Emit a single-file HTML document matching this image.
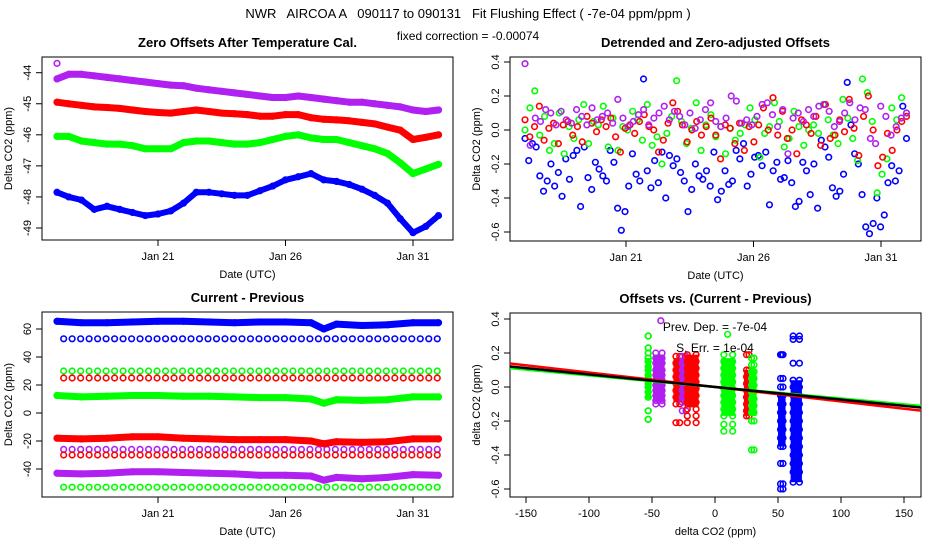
<!DOCTYPE html>
<html><head><meta charset="utf-8"><style>
body{margin:0;background:#fff;width:936px;height:540px;overflow:hidden}
svg{display:block;font-family:"Liberation Sans",sans-serif}
</style></head><body>
<svg id="s" width="936" height="540" viewBox="0 0 936 540" xmlns="http://www.w3.org/2000/svg">
<text x="468" y="18" text-anchor="middle" font-size="13" xml:space="preserve">NWR   AIRCOA A   090117 to 090131   Fit Flushing Effect ( -7e-04 ppm/ppm )</text>
<text x="468" y="40" text-anchor="middle" font-size="12">fixed correction = -0.00074</text>
</svg>
<script>
// ---- data ----
const dayStart = 17.04, dayEnd = 32.0;
const dateTickDays = [21, 26, 31];
const dateTickLabels = ["Jan 21", "Jan 26", "Jan 31"];
// Panel 1: zero offsets (keyframe days + values)
const p1Days = [17.04,17.5,18,18.5,19,19.5,20,20.5,21,21.5,22,22.5,23,23.5,24,24.5,25,25.5,26,26.5,27,27.5,28,28.5,29,29.5,30,30.5,31,31.5,32];
const p1Purple = [-44.2,-44.05,-44.05,-44.1,-44.15,-44.2,-44.25,-44.3,-44.35,-44.4,-44.42,-44.5,-44.55,-44.6,-44.65,-44.7,-44.75,-44.8,-44.8,-44.75,-44.8,-44.85,-44.9,-44.95,-44.95,-45.0,-45.05,-45.1,-45.2,-45.25,-45.2];
const p1Red = [-44.95,-45.0,-45.05,-45.1,-45.12,-45.15,-45.2,-45.25,-45.28,-45.3,-45.25,-45.2,-45.25,-45.3,-45.32,-45.35,-45.4,-45.4,-45.35,-45.35,-45.45,-45.5,-45.52,-45.55,-45.6,-45.65,-45.75,-45.85,-46.15,-46.08,-46.0];
const p1Green = [-46.05,-46.05,-46.2,-46.25,-46.3,-46.3,-46.35,-46.45,-46.45,-46.45,-46.25,-46.2,-46.2,-46.25,-46.3,-46.3,-46.25,-46.15,-46.05,-46.0,-46.1,-46.15,-46.15,-46.25,-46.35,-46.45,-46.6,-46.9,-47.25,-47.1,-46.95];
const p1Blue = [-47.85,-48.0,-48.1,-48.4,-48.3,-48.4,-48.5,-48.6,-48.55,-48.45,-48.2,-47.85,-47.85,-47.9,-47.95,-47.95,-47.8,-47.65,-47.45,-47.35,-47.25,-47.45,-47.5,-47.6,-47.75,-47.95,-48.2,-48.7,-49.15,-48.95,-48.6];
// Panel 2: detrended offsets (evenly spaced over the period)
const p2Blue = [-0.05,-0.18,-0.08,-0.1,-0.27,-0.36,-0.3,-0.2,-0.33,-0.25,-0.39,-0.17,-0.29,-0.15,-0.12,-0.45,-0.1,-0.28,-0.35,-0.19,-0.23,-0.27,-0.3,-0.12,-0.19,-0.46,-0.59,-0.48,-0.33,-0.14,-0.26,-0.3,0.3,-0.24,-0.34,-0.18,-0.31,-0.13,-0.4,-0.15,-0.21,-0.17,-0.25,-0.3,-0.48,-0.35,-0.2,-0.27,-0.29,-0.24,-0.33,-0.13,-0.41,-0.36,-0.24,-0.32,-0.3,-0.12,-0.17,-0.08,-0.33,-0.26,-0.16,-0.15,-0.21,-0.13,-0.44,-0.24,-0.19,-0.29,-0.28,-0.18,-0.31,-0.45,-0.42,-0.19,-0.24,-0.38,-0.2,-0.46,-0.06,-0.1,-0.16,-0.34,-0.39,-0.36,-0.26,0.28,0.03,-0.14,-0.2,-0.38,-0.57,-0.61,-0.55,-0.4,-0.57,-0.5,-0.31,-0.21,-0.3,-0.24,0.14,-0.05];
const p2Red = [0.06,-0.04,0.02,0.14,-0.06,0.01,0.04,-0.08,0.03,0.05,-0.03,0.02,-0.07,0.08,0.04,-0.01,0.06,0.02,0.07,-0.04,-0.13,0.01,0.03,-0.02,0.05,0.09,0.02,0.0,-0.13,-0.06,0.04,0.16,0.11,0.03,-0.07,0.0,0.05,-0.03,0.02,0.07,-0.03,-0.17,0.03,0.01,-0.08,0.04,-0.12,0.02,-0.07,0.03,0.13,0.0,0.19,-0.03,0.11,-0.05,0.0,-0.14,0.06,0.03,-0.02,0.08,-0.09,0.15,-0.05,-0.03,0.06,-0.01,0.18,0.01,-0.15,0.08,0.2,0.0,-0.21,-0.16,-0.02,-0.12,0.0,0.05,0.08];
const p2Green = [0.0,0.13,0.23,-0.03,0.08,-0.12,-0.08,0.1,-0.14,0.02,-0.05,0.06,0.15,-0.08,0.05,0.03,0.14,-0.1,0.07,-0.12,0.02,0.0,0.11,0.06,-0.06,0.15,-0.09,-0.04,-0.2,-0.02,0.08,0.29,0.05,-0.08,0.01,0.16,-0.12,0.03,0.09,-0.04,0.02,-0.14,0.01,-0.06,-0.02,0.03,0.13,0.06,-0.16,-0.02,0.02,0.16,0.05,-0.1,-0.05,0.11,0.02,-0.09,0.0,0.03,-0.02,0.15,0.06,-0.03,-0.08,0.18,0.07,-0.05,-0.18,0.3,0.22,0.05,-0.37,-0.26,-0.17,0.13,0.06,0.19,0.1];
const p2Purple = [0.39,-0.09,0.07,0.05,0.12,0.1,0.03,0.11,0.06,0.04,0.12,0.08,0.03,0.13,0.06,0.08,0.1,0.04,0.18,0.07,0.02,0.05,0.09,0.12,0.03,0.07,0.1,0.14,0.06,0.11,0.08,0.03,0.1,0.01,0.06,0.12,0.16,0.05,0.02,0.07,0.2,0.17,0.04,0.06,0.03,0.08,0.15,0.16,0.09,0.02,0.12,-0.14,0.07,0.1,0.05,0.12,0.08,0.14,0.15,0.11,0.02,0.05,0.1,0.16,0.06,0.13,0.12,-0.05,-0.08,0.14,0.08,-0.03,0.02,0.07,0.1];
// Panel 3: current - previous
const p3Days = [17.04,18,19,20,21,22,23,24,25,26,27,27.5,28,29,30,31,32];
const p3Blue = [65.5,64.5,64.5,65,65.5,65.5,65,64.5,65,65,64.5,60,63.5,62.5,63,64.5,64.5];
const p3Green = [12.5,11.5,12,12.5,12.5,12,12,11.5,11,11,10,7,9.5,9,9.5,11.5,11.5];
const p3Red = [-18,-18.5,-18,-17,-17,-18,-18.5,-19,-19,-19,-20,-22,-20.5,-21,-20.5,-18.5,-18.5];
const p3Purple = [-43,-43.5,-43,-42,-42,-42.5,-43,-43.5,-44.5,-44.5,-45,-48,-46,-47,-46,-44,-44.5];
const p3RowLevels = [53, 30, 25, -26, -30, -53];
const p3RowColors = ["blue", "green", "red", "purple", "red", "green"];
// Panel 4: offsets vs current-previous clusters
const p4ClusterX0 = [-53,-47,-31,-26,-22,7,25,29,52,62];
const p4ClusterX1 = [-53,-42,-28,-23,-15,14,27,31,54,67];
const p4ClusterColor = ["green","purple","red","purple","red","green","red","green","blue","blue"];
const p4CoreTop = [0.17,0.19,0.17,0.17,0.19,0.17,0.1,0.1,-0.05,0.04];
const p4CoreBot = [-0.07,-0.09,-0.09,-0.08,-0.12,-0.17,-0.17,-0.17,-0.35,-0.56];
const p4ClusterYs = [
 [0.3,0.23,0.2,0.17,0.15,0.12,0.1,0.07,0.05,0.02,0,-0.03,-0.06,-0.14,-0.19],
 [0.2,0.17,0.14,0.1,0.07,0.04,0.01,-0.02,-0.05,-0.08,-0.1],
 [0.18,0.14,0.1,0.06,0.02,-0.02,-0.06,-0.1,-0.21],
 [0.18,0.14,0.1,0.06,0.02,-0.02,-0.06,-0.09,-0.14],
 [0.19,0.15,0.11,0.07,0.03,-0.01,-0.05,-0.09,-0.13,-0.17,-0.21],
 [0.19,0.15,0.11,0.07,0.03,-0.01,-0.05,-0.09,-0.13,-0.17,-0.22,-0.26],
 [0.19,0.1,0.06,0.02,-0.02,-0.06,-0.1,-0.14,-0.17],
 [0.17,0.13,0.09,0.05,0.01,-0.03,-0.07,-0.11,-0.15,-0.2,-0.37],
 [0.19,0.05,0,-0.05,-0.1,-0.15,-0.2,-0.25,-0.3,-0.35,-0.45,-0.57,-0.6],
 [0.3,0.28,0.14,0.04,0,-0.05,-0.1,-0.15,-0.2,-0.25,-0.3,-0.35,-0.4,-0.45,-0.5,-0.56]
];
const p4OutlierX = [-43, 10, 53];
const p4OutlierY = [0.39, 0.31, 0.19];
const p4OutlierColor = ["purple","green","blue"];
const p4Slope = [-0.00074, -0.00085, -0.00068];
const p4LineColor = ["black","red","green"];
const p4XTicks = [-150,-100,-50,0,50,100,150];
const COL = {blue:"#0000ff", red:"#ff0000", green:"#00ff00", purple:"#b020f0", black:"#000"};

// ---- drawing ----
const svg = document.getElementById('s');
const NS = "http://www.w3.org/2000/svg";
function el(tag, attrs, parent){ const e=document.createElementNS(NS,tag); for(const k in attrs) e.setAttribute(k,attrs[k]); (parent||svg).appendChild(e); return e; }
function lin(d0,d1,r0,r1){ return v => r0 + (v-d0)*(r1-r0)/(d1-d0); }

function frame(L,R,T,B,title,ylab,xlab,xTicks,xTickLabels,xs,yTicks,yTickLabels,ys,key){
  const g = el('g',{});
  
  
  const box = el('rect',{x:L,y:T,width:R-L,height:B-T,fill:'none',stroke:'#000','stroke-width':1},g);
  
  
  const t = el('text',{x:(L+R)/2,y:T-10,'text-anchor':'middle','font-size':13,'font-weight':'bold'},g);
  t.textContent = title;
  
  
  const yl = el('text',{x:0,y:0,'text-anchor':'middle','font-size':11,transform:`translate(${L-30},${(T+B)/2}) rotate(-90)`},g);
  yl.textContent = ylab;
  
  
  const xl = el('text',{x:(L+R)/2,y:B+38,'text-anchor':'middle','font-size':11},g);
  xl.textContent = xlab;
  
  
  xTicks.forEach((v,i)=>{
    const x=xs(v);
    el('line',{x1:x,x2:x,y1:B,y2:B+6,stroke:'#000'},g);
    const tx=el('text',{x:x,y:B+20,'text-anchor':'middle','font-size':11},g);
    tx.textContent=xTickLabels[i];
    
    
  });
  yTicks.forEach((v,i)=>{
    const y=ys(v);
    el('line',{x1:L-6,x2:L,y1:y,y2:y,stroke:'#000'},g);
    const ty=el('text',{x:0,y:0,'text-anchor':'middle','font-size':11,transform:`translate(${L-11},${y}) rotate(-90)`},g);
    ty.textContent=yTickLabels[i];
    
    
  });
  return g;
}
function circ(g,x,y,c,name){
  const e=el('circle',{cx:x,cy:y,r:2.8,fill:'none',stroke:COL[c],'stroke-width':1.6},g);
  
  
}
function band(g,days,vals,xs,ys,c,w,name){
  const pts=days.map((d,i)=>xs(d).toFixed(1)+','+ys(vals[i]).toFixed(1)).join(' ');
  const p=el('polyline',{points:pts,fill:'none',stroke:COL[c],'stroke-width':w,'stroke-linejoin':'round','stroke-linecap':'round'},g);
  
  
  days.forEach((d,i)=>circ(g,xs(d),ys(vals[i]),c,name+'-point'));
}
function even(vals){ return vals.map((_,i)=>dayStart+i*(dayEnd-dayStart)/(vals.length-1)); }

// Panel 1
{
  const L=42,R=453,T=57,B=240;
  const xs=lin(21,31,158,413), ys=lin(-44,-49,72.7,228);
  const g=frame(L,R,T,B,"Zero Offsets After Temperature Cal.","Delta CO2 (ppm)","Date (UTC)",dateTickDays,dateTickLabels,xs,[-44,-45,-46,-47,-48,-49],["-44","-45","-46","-47","-48","-49"],ys,'zero-offsets');
  band(g,p1Days,p1Purple,xs,ys,'purple',7,'purple-series');
  band(g,p1Days,p1Red,xs,ys,'red',7,'red-series');
  band(g,p1Days,p1Green,xs,ys,'green',7,'green-series');
  band(g,p1Days,p1Blue,xs,ys,'blue',6,'blue-series');
  circ(g,xs(17.04),ys(-43.7),'purple','purple-outlier');
}
// Panel 2
{
  const L=510,R=921,T=57,B=241;
  const xs=lin(21,31,626,881), ys=lin(0,0.4,130,62);
  const g=frame(L,R,T,B,"Detrended and Zero-adjusted Offsets","Delta CO2 (ppm)","Date (UTC)",dateTickDays,dateTickLabels,xs,[0.4,0.2,0,-0.2,-0.4,-0.6],["0.4","0.2","0.0","-0.2","-0.4","-0.6"],ys,'detrended');
  [[p2Blue,'blue'],[p2Green,'green'],[p2Red,'red'],[p2Purple,'purple']].forEach(([v,c])=>{
    even(v).forEach((d,i)=>circ(g,xs(d),ys(v[i]),c,c+'-detrended-point'));
  });
}
// Panel 3
{
  const L=42,R=453,T=312,B=497;
  const xs=lin(21,31,158,413), ys=lin(0,60,413,329);
  const g=frame(L,R,T,B,"Current - Previous","Delta CO2 (ppm)","Date (UTC)",dateTickDays,dateTickLabels,xs,[60,40,20,0,-20,-40],["60","40","20","0","-20","-40"],ys,'current-previous');
  p3RowLevels.forEach((lv,j)=>{
    for(let d=17.3; d<=32.01; d+=0.333){ circ(g,xs(d),ys(lv),p3RowColors[j],'level-row-point'); }
  });
  band(g,p3Days,p3Blue,xs,ys,'blue',7,'blue-diff-series');
  band(g,p3Days,p3Green,xs,ys,'green',7,'green-diff-series');
  band(g,p3Days,p3Red,xs,ys,'red',7,'red-diff-series');
  band(g,p3Days,p3Purple,xs,ys,'purple',7,'purple-diff-series');
}
// Panel 4
{
  const L=510,R=921,T=313,B=497;
  const xs=lin(0,150,715,904), ys=lin(0,0.4,387,319);
  const g=frame(L,R,T,B,"Offsets vs. (Current - Previous)","delta CO2 (ppm)","delta CO2 (ppm)",p4XTicks,p4XTicks.map(String),xs,[0.4,0.2,0,-0.2,-0.4,-0.6],["0.4","0.2","0.0","-0.2","-0.4","-0.6"],ys,'offsets-vs-diff');
  p4ClusterYs.forEach((yv,k)=>{
    const x0=p4ClusterX0[k], x1=p4ClusterX1[k];
    const r=el('rect',{x:xs(x0)-2.5,y:ys(p4CoreTop[k]),width:xs(x1)-xs(x0)+5,height:ys(p4CoreBot[k])-ys(p4CoreTop[k]),fill:COL[p4ClusterColor[k]]},g);
    
    
    yv.forEach(y=>{ circ(g,xs(x0),ys(y),p4ClusterColor[k],'cluster-point'); circ(g,xs(x1),ys(y),p4ClusterColor[k],'cluster-point'); });
  });
  p4OutlierX.forEach((x,i)=>circ(g,xs(x),ys(p4OutlierY[i]),p4OutlierColor[i],'outlier-point'));
  [1,2,0].forEach(i=>{
    const ln=el('line',{x1:L,y1:ys(p4Slope[i]*-163),x2:R,y2:ys(p4Slope[i]*163.5),stroke:COL[p4LineColor[i]],'stroke-width':2.5},g);
    
    
  });
  const a=el('text',{x:715,y:331,'text-anchor':'middle','font-size':12},g);
  a.textContent="Prev. Dep. =  -7e-04";
  
  
  const b=el('text',{x:715,y:352,'text-anchor':'middle','font-size':12},g);
  b.textContent="S. Err. =  1e-04";
  
  
}
</script>
</body></html>
